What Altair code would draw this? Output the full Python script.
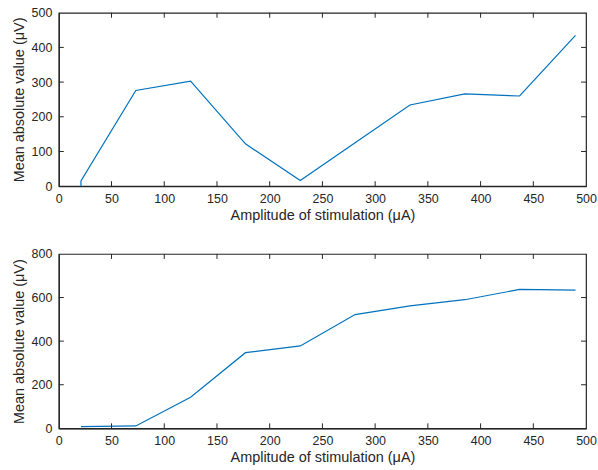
import altair as alt
import pandas as pd

# Data
top_amps = [21, 21, 73, 125, 177, 229, 281, 333, 385, 437, 490]
top_vals = [0, 15, 276, 303, 122, 16, 125, 234, 266, 260, 435]
bot_amps = [21, 73, 125, 177, 229, 281, 333, 385, 437, 490]
bot_vals = [8, 11, 143, 347, 378, 522, 562, 590, 637, 634]

x_ticks = [0, 50, 100, 150, 200, 250, 300, 350, 400, 450, 500]
top_y_ticks = [0, 100, 200, 300, 400, 500]
bot_y_ticks = [0, 200, 400, 600, 800]

X_TITLE = "Amplitude of stimulation (μA)"
Y_TITLE = "Mean absolute value (μV)"
FONT = "Liberation Sans"
AX = "#262626"
LINE = "#0072BD"
W = 529
TICK = 5


def axis(values, title, lpad, tpad):
    return alt.Axis(values=values, title=title, tickSize=0, labelPadding=lpad,
                    titlePadding=tpad, format="d", grid=False, labelOverlap=False,
                    labelFlush=False,
                    labelFont=FONT, titleFont=FONT, labelFontSize=12.5,
                    titleFontSize=14.5, labelColor=AX, titleColor=AX,
                    titleFontWeight="normal", domainColor=AX, domainWidth=1.2)


def panel(amps, vals, ymax, yticks, h):
    df = pd.DataFrame({"amp": amps, "val": vals, "order": list(range(len(amps)))})
    xs = alt.Scale(domain=[0, 500], nice=False, zero=False)
    ys = alt.Scale(domain=[0, ymax], nice=False)
    xa = axis(x_ticks, X_TITLE, 6, 4)
    ya = axis(yticks, Y_TITLE, 7, 5)
    line = alt.Chart(df).mark_line(color=LINE, strokeWidth=1.2).encode(
        x=alt.X("amp:Q", scale=xs, axis=xa),
        y=alt.Y("val:Q", scale=ys, axis=ya),
        order="order:Q",
    )
    xt = pd.DataFrame({"t": x_ticks[1:-1]})
    yt = pd.DataFrame({"t": yticks[1:-1]})
    tb = alt.Chart(xt).mark_rule(color=AX, strokeWidth=1).encode(
        x=alt.X("t:Q", scale=xs, axis=xa), y=alt.value(h - TICK), y2=alt.value(h))
    tt = alt.Chart(xt).mark_rule(color=AX, strokeWidth=1).encode(
        x=alt.X("t:Q", scale=xs, axis=xa), y=alt.value(0), y2=alt.value(TICK))
    tl = alt.Chart(yt).mark_rule(color=AX, strokeWidth=1).encode(
        y=alt.Y("t:Q", scale=ys, axis=ya), x=alt.value(0), x2=alt.value(TICK))
    tr = alt.Chart(yt).mark_rule(color=AX, strokeWidth=1).encode(
        y=alt.Y("t:Q", scale=ys, axis=ya), x=alt.value(W - TICK), x2=alt.value(W))
    return alt.layer(line, tb, tt, tl, tr).properties(width=W, height=h)


top = panel(top_amps, top_vals, 500, top_y_ticks, 174)
bot = panel(bot_amps, bot_vals, 800, bot_y_ticks, 175)

chart = alt.vconcat(top, bot, spacing=24).properties(
    padding={"left": 10, "top": 5, "right": 0, "bottom": 0},
    background="white",
).configure_view(
    stroke=AX, strokeWidth=1.2
)

chart.save("out.html", embed_options={"renderer": "svg", "actions": False})
